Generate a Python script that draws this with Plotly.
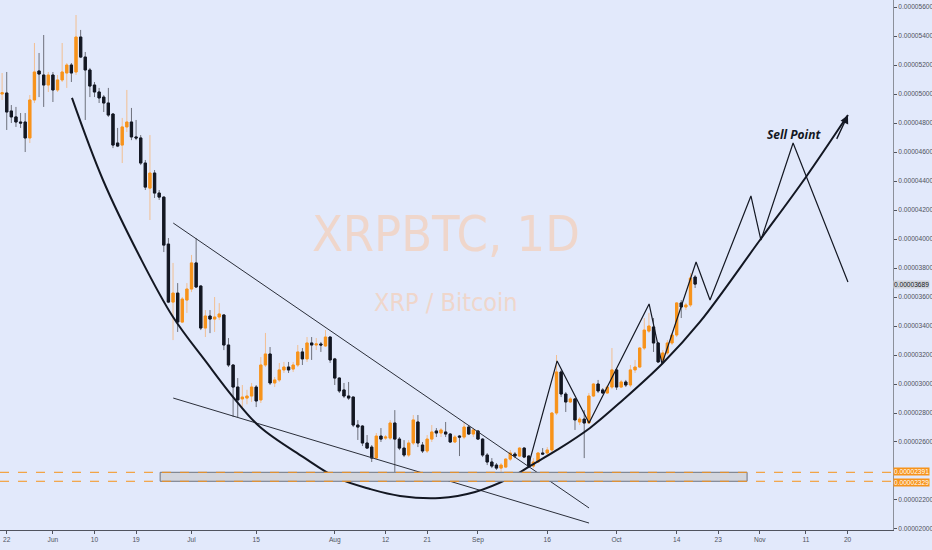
import pandas as pd
import plotly.graph_objects as go

# daily candles, prices in satoshi (x 1e-8 BTC), 2019-05-21 .. 2019-10-18
dates = pd.date_range("2019-05-21", periods=151, freq="D")

opens = [5000, 5007, 4883, 4842, 4807, 4807, 4697, 4959, 5159, 5131,
         5062, 5131, 5028, 5097, 5145, 5200, 5152, 5393, 5255, 5166,
         5062, 5014, 4979, 4938, 4862, 4662, 4648, 4773, 4807, 4704,
         4697, 4524, 4351, 4455, 4317, 4289, 3965, 3565, 3627, 3427,
         3579, 3655, 3835, 3676, 3386, 3469, 3448, 3462, 3476, 3269,
         3131, 2979, 2897, 2903, 2917, 2979, 2890, 3131, 3207, 3007,
         3028, 3097, 3117, 3103, 3131, 3221, 3173, 3283, 3269, 3276,
         3262, 3324, 3173, 3041, 2959, 2917, 2910, 2717, 2710, 2593,
         2565, 2489, 2641, 2627, 2627, 2731, 2620, 2558, 2510, 2593,
         2738, 2579, 2538, 2620, 2676, 2662, 2669, 2655, 2600, 2641,
         2634, 2703, 2655, 2676, 2620, 2510, 2462, 2441, 2420, 2427,
         2482, 2517, 2503, 2558, 2503, 2434, 2462, 2524, 2524, 2545,
         2800, 3083, 2931, 2876, 2897, 2738, 2758, 2731, 2917, 3000,
         2959, 2938, 2979, 3097, 2979, 3014, 2993, 3097, 3117, 3248,
         3365, 3393, 3283, 3166, 3214, 3283, 3338, 3559, 3531, 3545,
         3738]
highs = [5145, 5152, 4924, 4911, 4869, 4869, 4993, 5352, 5283, 5407,
         5152, 5152, 5131, 5352, 5214, 5214, 5545, 5442, 5290, 5180,
         5083, 5042, 4993, 5042, 4869, 4766, 4835, 5028, 4904, 4821,
         4717, 4545, 4717, 4476, 4338, 4295, 4007, 3835, 3696, 3600,
         3696, 3890, 4007, 3680, 3510, 3510, 3600, 3558, 3480, 3317,
         3135, 3041, 2993, 2960, 3007, 2993, 3186, 3352, 3255, 3048,
         3145, 3152, 3152, 3152, 3269, 3248, 3324, 3324, 3317, 3290,
         3372, 3328, 3180, 3045, 3007, 3014, 2914, 2751, 2717, 2648,
         2579, 2662, 2696, 2648, 2751, 2820, 2634, 2613, 2613, 2786,
         2786, 2600, 2648, 2717, 2696, 2696, 2738, 2662, 2648, 2648,
         2738, 2717, 2696, 2683, 2627, 2524, 2489, 2455, 2455, 2489,
         2545, 2531, 2565, 2565, 2510, 2489, 2531, 2558, 2565, 2807,
         3200, 3097, 2945, 2910, 2903, 2772, 2820, 2938, 3007, 3028,
         2972, 2993, 3248, 3110, 3028, 3028, 3131, 3166, 3255, 3455,
         3490, 3455, 3290, 3234, 3303, 3352, 3565, 3579, 3559, 3765,
         3752]
lows = [4959, 4752, 4800, 4773, 4766, 4600, 4662, 4938, 4979, 4911,
        5014, 4945, 5014, 5083, 5042, 5083, 5131, 5248, 4821, 4979,
        4979, 4938, 4876, 4842, 4627, 4634, 4524, 4738, 4682, 4682,
        4510, 4338, 4131, 4283, 4269, 3910, 3558, 3303, 3359, 3420,
        3490, 3634, 3662, 3372, 3324, 3351, 3359, 3441, 3234, 3117,
        2772, 2772, 2841, 2860, 2876, 2841, 2869, 3117, 2993, 2979,
        3014, 3076, 3076, 3083, 3117, 3131, 3152, 3166, 3234, 3221,
        3255, 3145, 2993, 2938, 2903, 2890, 2703, 2614, 2572, 2555,
        2462, 2482, 2600, 2614, 2614, 2393, 2544, 2496, 2496, 2579,
        2565, 2524, 2524, 2600, 2634, 2634, 2634, 2593, 2593, 2503,
        2620, 2648, 2634, 2614, 2496, 2441, 2420, 2407, 2393, 2420,
        2469, 2489, 2496, 2489, 2420, 2420, 2455, 2510, 2510, 2531,
        2786, 2910, 2807, 2869, 2683, 2717, 2489, 2728, 2910, 2938,
        2931, 2931, 2965, 2959, 2972, 2979, 2979, 3076, 3110, 3234,
        3352, 3221, 3145, 3145, 3200, 3269, 3324, 3455, 3510, 3531,
        3662]
closes = [5009, 4876, 4842, 4807, 4800, 4697, 4959, 5152, 5138, 5062,
          5131, 5028, 5097, 5152, 5200, 5145, 5393, 5255, 5166, 5055,
          5014, 4973, 4938, 4855, 4648, 4641, 4773, 4807, 4704, 4697,
          4524, 4358, 4455, 4317, 4289, 3958, 3565, 3627, 3427, 3586,
          3655, 3835, 3669, 3386, 3469, 3448, 3462, 3483, 3269, 3131,
          2979, 2890, 2910, 2917, 2979, 2883, 3131, 3207, 3007, 3028,
          3097, 3117, 3097, 3131, 3221, 3173, 3283, 3269, 3276, 3269,
          3324, 3166, 3041, 2952, 2917, 2903, 2717, 2703, 2593, 2558,
          2489, 2641, 2620, 2634, 2731, 2620, 2558, 2510, 2593, 2752,
          2593, 2538, 2620, 2669, 2662, 2683, 2655, 2600, 2634, 2634,
          2703, 2655, 2683, 2620, 2510, 2462, 2434, 2420, 2441, 2482,
          2524, 2503, 2558, 2496, 2434, 2462, 2524, 2517, 2545, 2800,
          3083, 2931, 2876, 2897, 2752, 2758, 2731, 2917, 3000, 2952,
          2938, 2979, 3097, 2979, 3014, 2993, 3097, 3117, 3248, 3372,
          3400, 3283, 3152, 3214, 3283, 3338, 3559, 3531, 3545, 3731,
          3689]

# drawing overlays (date, satoshi)
cup_x = ["2019-06-05 03:00", "2019-06-11 20:00", "2019-06-19 20:00", "2019-06-27 00:00",
         "2019-07-04 08:00", "2019-07-10 00:00", "2019-07-15 20:00", "2019-07-25 03:00",
         "2019-08-01 12:00", "2019-08-08 15:00", "2019-08-15 03:00", "2019-08-23 19:00",
         "2019-08-31 09:00", "2019-09-07 22:00", "2019-09-12 06:00", "2019-09-18 03:00",
         "2019-09-25 06:00", "2019-10-02 09:00", "2019-10-11 01:00", "2019-10-19 01:00",
         "2019-11-01 01:00", "2019-11-11 00:00", "2019-11-20 02:00"]
cup_y = [4973, 4407, 3876, 3462, 3145, 2910, 2703, 2497, 2352, 2276, 2228, 2214,
         2255, 2352, 2434, 2545, 2697, 2890, 3145, 3428, 3993, 4428, 4855]

upper_x = ["2019-06-27 01:00", "2019-09-25 01:00"]
upper_y = [4110, 2145]
lower_x = ["2019-06-27 01:00", "2019-09-25 01:00"]
lower_y = [2903, 2041]

zig_x = ["2019-09-11 20:00", "2019-09-18 03:00", "2019-09-25 01:00", "2019-10-08 01:00",
         "2019-10-10 20:00", "2019-10-18 05:00", "2019-10-21 05:30", "2019-10-30 02:00",
         "2019-11-01 06:00", "2019-11-08 05:00", "2019-11-20 02:00"]
zig_y = [2428, 3159, 2731, 3552, 3138, 3841, 3579, 4297, 3993, 4662, 3703]

zone_x = ["2019-06-24 05:00", "2019-10-29 06:00"]
zone_y = [2329, 2391]
last_price = 3689

y_ticks = [2000, 2200, 2400, 2600, 2800, 3000, 3200, 3400, 3600, 3800,
           4000, 4200, 4400, 4600, 4800, 5000, 5200, 5400, 5600]
# 0.00002400 sits under the orange level labels, so its text is left out
y_labels = ["0.00002000", "0.00002200", "", "0.00002600", "0.00002800",
            "0.00003000", "0.00003200", "0.00003400", "0.00003600", "0.00003800",
            "0.00004000", "0.00004200", "0.00004400", "0.00004600", "0.00004800",
            "0.00005000", "0.00005200", "0.00005400", "0.00005600"]
x_ticks = ["2019-05-22", "2019-06-01", "2019-06-10", "2019-06-19", "2019-07-01",
           "2019-07-15", "2019-08-01", "2019-08-12", "2019-08-21", "2019-09-01",
           "2019-09-16", "2019-10-01", "2019-10-14", "2019-10-23", "2019-11-01",
           "2019-11-11", "2019-11-20"]
x_labels = ["22", "Jun", "10", "19", "Jul", "15", "Aug", "12", "21", "Sep",
            "16", "Oct", "14", "23", "Nov", "11", "20"]

SAT = 1e-8
def sats(v):
    return [p * SAT for p in v]

UP = "#f7931a"
DOWN = "#131722"
BG = "#e2e9fb"
FONT = "Liberation Sans, Arial, sans-serif"
WM_FONT = "DejaVu Sans Condensed, Liberation Sans Narrow, sans-serif"

fig = go.Figure()

# wicks
fig.add_trace(go.Candlestick(
    x=dates, open=sats(opens), high=sats(highs), low=sats(lows), close=sats(closes),
    increasing=dict(line=dict(color="#f2bf92", width=1), fillcolor="#f2bf92"),
    decreasing=dict(line=dict(color="#6e717c", width=1), fillcolor="#6e717c"),
    hoverinfo="skip", showlegend=False))

# bodies on top
body_hi = [max(o, c) for o, c in zip(opens, closes)]
body_lo = [min(o, c) for o, c in zip(opens, closes)]
fig.add_trace(go.Candlestick(
    x=dates, open=sats(opens), high=sats(body_hi), low=sats(body_lo), close=sats(closes),
    increasing=dict(line=dict(color=UP, width=1), fillcolor=UP),
    decreasing=dict(line=dict(color=DOWN, width=1), fillcolor=DOWN),
    hoverinfo="skip", showlegend=False))

# support zone
fig.add_shape(type="rect", x0=zone_x[0], x1=zone_x[1], y0=zone_y[0] * SAT, y1=zone_y[1] * SAT,
              fillcolor="#d3d6de", line=dict(color="#6f737e", width=1), layer="above")
for lvl in zone_y:
    fig.add_shape(type="line", xref="paper", x0=0, x1=1, y0=lvl * SAT, y1=lvl * SAT,
                  line=dict(color=UP, width=1, dash="dash"))

# trend lines
for xs, ys in [(upper_x, upper_y), (lower_x, lower_y)]:
    fig.add_trace(go.Scatter(x=xs, y=sats(ys), mode="lines", line=dict(color="#2a2e39", width=1),
                             hoverinfo="skip", showlegend=False))

# cup curve
fig.add_trace(go.Scatter(x=cup_x, y=sats(cup_y), mode="lines",
                         line=dict(color="#131722", width=2, shape="spline", smoothing=1.0),
                         hoverinfo="skip", showlegend=False))

# projection zigzag
fig.add_trace(go.Scatter(x=zig_x, y=sats(zig_y), mode="lines", line=dict(color="#131722", width=1.2),
                         hoverinfo="skip", showlegend=False))

# arrow head at the end of the cup
fig.add_annotation(x=cup_x[-1], y=cup_y[-1] * SAT, ax="2019-11-17 12:00", ay=4680 * SAT,
                   axref="x", ayref="y", text="", showarrow=True, arrowhead=2,
                   arrowsize=1.2, arrowwidth=1.4, arrowcolor="#131722")

fig.add_annotation(x="2019-11-08 12:00", y=4724 * SAT, text="<b><i>Sell Point</i></b>",
                   showarrow=False, font=dict(family="Open Sans, sans-serif", size=12, color="#131722"))

# watermark
fig.add_annotation(xref="paper", yref="paper", x=0.4994, y=0.5585, text="XRPBTC, 1D",
                   showarrow=False, font=dict(family=WM_FONT, size=50, color="#efd6cb"))
fig.add_annotation(xref="paper", yref="paper", x=0.4994, y=0.430, text="XRP / Bitcoin",
                   showarrow=False, font=dict(family=WM_FONT, size=25, color="#efd6cb"))

# price labels on the axis
for lvl, bg, fg, shift in [(zone_y[1], UP, "white", 1), (zone_y[0], UP, "white", -1),
                           (last_price, "#d1d4dc", "#131722", 0)]:
    fig.add_annotation(xref="paper", x=1.0, xanchor="left", y=lvl * SAT, yanchor="middle",
                       yshift=shift, text="0.%08d" % lvl, showarrow=False, bgcolor=bg,
                       borderpad=0, font=dict(family=FONT, size=6.6, color=fg))

fig.update_layout(
    width=932, height=550,
    margin=dict(l=0, r=39, t=0, b=20),
    paper_bgcolor=BG, plot_bgcolor=BG,
    font=dict(family=FONT, size=6.6, color="#50535e"),
    showlegend=False,
    xaxis=dict(
        type="date", range=["2019-05-20 13:05", "2019-11-29 20:00"],
        rangeslider=dict(visible=False), automargin=False,
        tickvals=x_ticks, ticktext=x_labels,
        ticks="outside", ticklen=3, tickcolor="#50535e",
        showline=True, linecolor="#50535e", linewidth=1,
        showgrid=False, zeroline=False,
    ),
    yaxis=dict(
        side="right", range=[1.993e-5, 5.6485e-5], automargin=False,
        tickvals=sats(y_ticks), ticktext=y_labels,
        ticks="outside", ticklen=3, tickcolor="#50535e",
        showline=True, linecolor="#8c909a", linewidth=1,
        showgrid=False, zeroline=False,
    ),
)

fig.write_html("out.html", config={"displayModeBar": False},
               post_script="document.body.style.margin='0px';")
